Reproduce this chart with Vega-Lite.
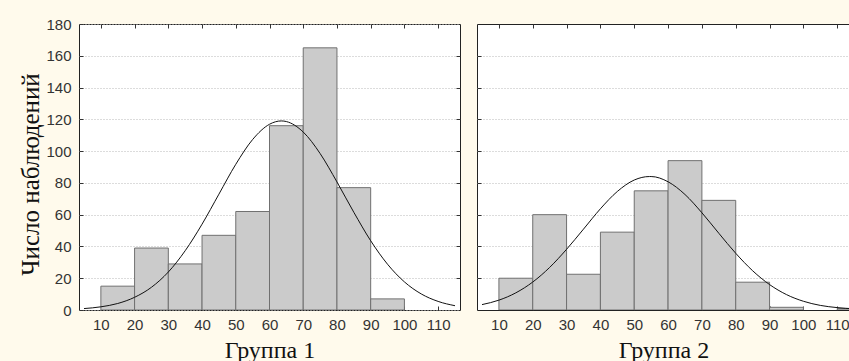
{
  "$schema": "https://vega.github.io/schema/vega-lite/v6.json",
  "background": "#fffaec",
  "padding": {"left": 17, "top": 16, "right": 0, "bottom": 0},
  "spacing": 15,
  "datasets": {
    "bars1": [
      {"bin_start": 10, "bin_end": 20, "count": 15},
      {"bin_start": 20, "bin_end": 30, "count": 39},
      {"bin_start": 30, "bin_end": 40, "count": 29},
      {"bin_start": 40, "bin_end": 50, "count": 47},
      {"bin_start": 50, "bin_end": 60, "count": 62},
      {"bin_start": 60, "bin_end": 70, "count": 116},
      {"bin_start": 70, "bin_end": 80, "count": 165},
      {"bin_start": 80, "bin_end": 90, "count": 77},
      {"bin_start": 90, "bin_end": 100, "count": 7}
    ],
    "bars2": [
      {"bin_start": 10, "bin_end": 20, "count": 20},
      {"bin_start": 20, "bin_end": 30, "count": 60},
      {"bin_start": 30, "bin_end": 40, "count": 22.5},
      {"bin_start": 40, "bin_end": 50, "count": 49},
      {"bin_start": 50, "bin_end": 60, "count": 75},
      {"bin_start": 60, "bin_end": 70, "count": 94},
      {"bin_start": 70, "bin_end": 80, "count": 69},
      {"bin_start": 80, "bin_end": 90, "count": 17.5},
      {"bin_start": 90, "bin_end": 100, "count": 1.7},
      {"bin_start": 110, "bin_end": 120, "count": 1}
    ],
    "curve1": [
      {"x": 5, "y": 0.9}, {"x": 10, "y": 2.0}, {"x": 15, "y": 4.1}, {"x": 20, "y": 8.0},
      {"x": 25, "y": 14.3}, {"x": 30, "y": 23.9}, {"x": 35, "y": 37.3}, {"x": 40, "y": 54.0},
      {"x": 45, "y": 72.9}, {"x": 50, "y": 91.7}, {"x": 55, "y": 107.3}, {"x": 60, "y": 116.9},
      {"x": 63.5, "y": 119}, {"x": 65, "y": 118.6}, {"x": 70, "y": 112.0}, {"x": 75, "y": 98.5},
      {"x": 80, "y": 80.6}, {"x": 85, "y": 61.5}, {"x": 90, "y": 43.6}, {"x": 95, "y": 28.8},
      {"x": 100, "y": 17.7}, {"x": 105, "y": 10.1}, {"x": 110, "y": 5.4}, {"x": 115, "y": 2.7}
    ],
    "curve2": [
      {"x": 5, "y": 3.4}, {"x": 10, "y": 6.2}, {"x": 15, "y": 10.8}, {"x": 20, "y": 17.6},
      {"x": 25, "y": 26.8}, {"x": 30, "y": 38.2}, {"x": 35, "y": 50.9}, {"x": 40, "y": 63.7},
      {"x": 45, "y": 74.6}, {"x": 50, "y": 81.8}, {"x": 54.5, "y": 84}, {"x": 55, "y": 84.0},
      {"x": 60, "y": 80.7}, {"x": 65, "y": 72.7}, {"x": 70, "y": 61.2}, {"x": 75, "y": 48.3},
      {"x": 80, "y": 35.7}, {"x": 85, "y": 24.7}, {"x": 90, "y": 16.0}, {"x": 95, "y": 9.7},
      {"x": 100, "y": 5.5}, {"x": 105, "y": 2.9}, {"x": 110, "y": 1.5}, {"x": 115, "y": 0.7}
    ]
  },
  "config": {
    "view": {"stroke": "#222", "strokeWidth": 1, "fill": "white"},
    "axis": {
      "domain": false,
      "labelFont": "Liberation Sans",
      "labelFontSize": 15,
      "labelColor": "#333",
      "tickColor": "#333",
      "tickSize": -4,
      "titleFont": "Liberation Serif",
      "titleFontWeight": "normal",
      "titleColor": "#111",
      "gridColor": "#b8b8b8",
      "gridDash": [1, 2]
    }
  },
  "hconcat": [
    {
      "width": 381,
      "height": 286,
      "layer": [
        {
          "data": {"name": "bars1"},
          "mark": {"type": "bar", "orient": "vertical", "fill": "#cbcbcb", "stroke": "#707070", "strokeWidth": 1, "clip": true},
          "encoding": {
            "x": {"field": "bin_start", "type": "quantitative",
                  "scale": {"domain": [5, 115], "nice": false, "zero": false},
                  "axis": {"values": [10, 20, 30, 40, 50, 60, 70, 80, 90, 100, 110], "grid": false, "labelPadding": 11,
                           "title": "Группа 1", "titleFontSize": 24, "titlePadding": 6}},
            "x2": {"field": "bin_end"},
            "y": {"field": "count", "type": "quantitative",
                  "scale": {"domain": [0, 180], "nice": false},
                  "axis": {"values": [0, 20, 40, 60, 80, 100, 120, 140, 160, 180], "grid": true, "labelPadding": 12,
                           "title": "Число наблюдений", "titleFontSize": 25, "titleX": -49, "titleY": 150, "titleBaseline": "middle"}}
          }
        },
        {
          "data": {"name": "curve1"},
          "mark": {"type": "line", "color": "#111", "strokeWidth": 1, "interpolate": "monotone", "clip": true},
          "encoding": {
            "x": {"field": "x", "type": "quantitative",
                  "scale": {"domain": [5, 115], "nice": false, "zero": false},
                  "axis": {"orient": "top", "values": [10, 20, 30, 40, 50, 60, 70, 80, 90, 100, 110], "labels": false, "grid": false, "title": null}},
            "y": {"field": "y", "type": "quantitative",
                  "scale": {"domain": [0, 180], "nice": false},
                  "axis": {"orient": "right", "values": [20, 40, 60, 80, 100, 120, 140, 160], "labels": false, "grid": false, "title": null}}
          }
        }
      ],
      "resolve": {"axis": {"x": "independent", "y": "independent"}}
    },
    {
      "width": 373,
      "height": 286,
      "layer": [
        {
          "data": {"name": "bars2"},
          "mark": {"type": "bar", "orient": "vertical", "fill": "#cbcbcb", "stroke": "#707070", "strokeWidth": 1, "clip": true},
          "encoding": {
            "x": {"field": "bin_start", "type": "quantitative",
                  "scale": {"domain": [5, 112.3], "nice": false, "zero": false},
                  "axis": {"values": [10, 20, 30, 40, 50, 60, 70, 80, 90, 100, 110], "grid": false, "labelPadding": 11,
                           "title": "Группа 2", "titleFontSize": 24, "titlePadding": 6}},
            "x2": {"field": "bin_end"},
            "y": {"field": "count", "type": "quantitative",
                  "scale": {"domain": [0, 180], "nice": false},
                  "axis": {"values": [20, 40, 60, 80, 100, 120, 140, 160], "grid": true, "labels": false, "title": null}}
          }
        },
        {
          "data": {"name": "curve2"},
          "mark": {"type": "line", "color": "#111", "strokeWidth": 1, "interpolate": "monotone", "clip": true},
          "encoding": {
            "x": {"field": "x", "type": "quantitative",
                  "scale": {"domain": [5, 112.3], "nice": false, "zero": false},
                  "axis": {"orient": "top", "values": [10, 20, 30, 40, 50, 60, 70, 80, 90, 100, 110], "labels": false, "grid": false, "title": null}},
            "y": {"field": "y", "type": "quantitative",
                  "scale": {"domain": [0, 180], "nice": false},
                  "axis": null}
          }
        }
      ],
      "resolve": {"axis": {"x": "independent", "y": "independent"}}
    }
  ]
}
